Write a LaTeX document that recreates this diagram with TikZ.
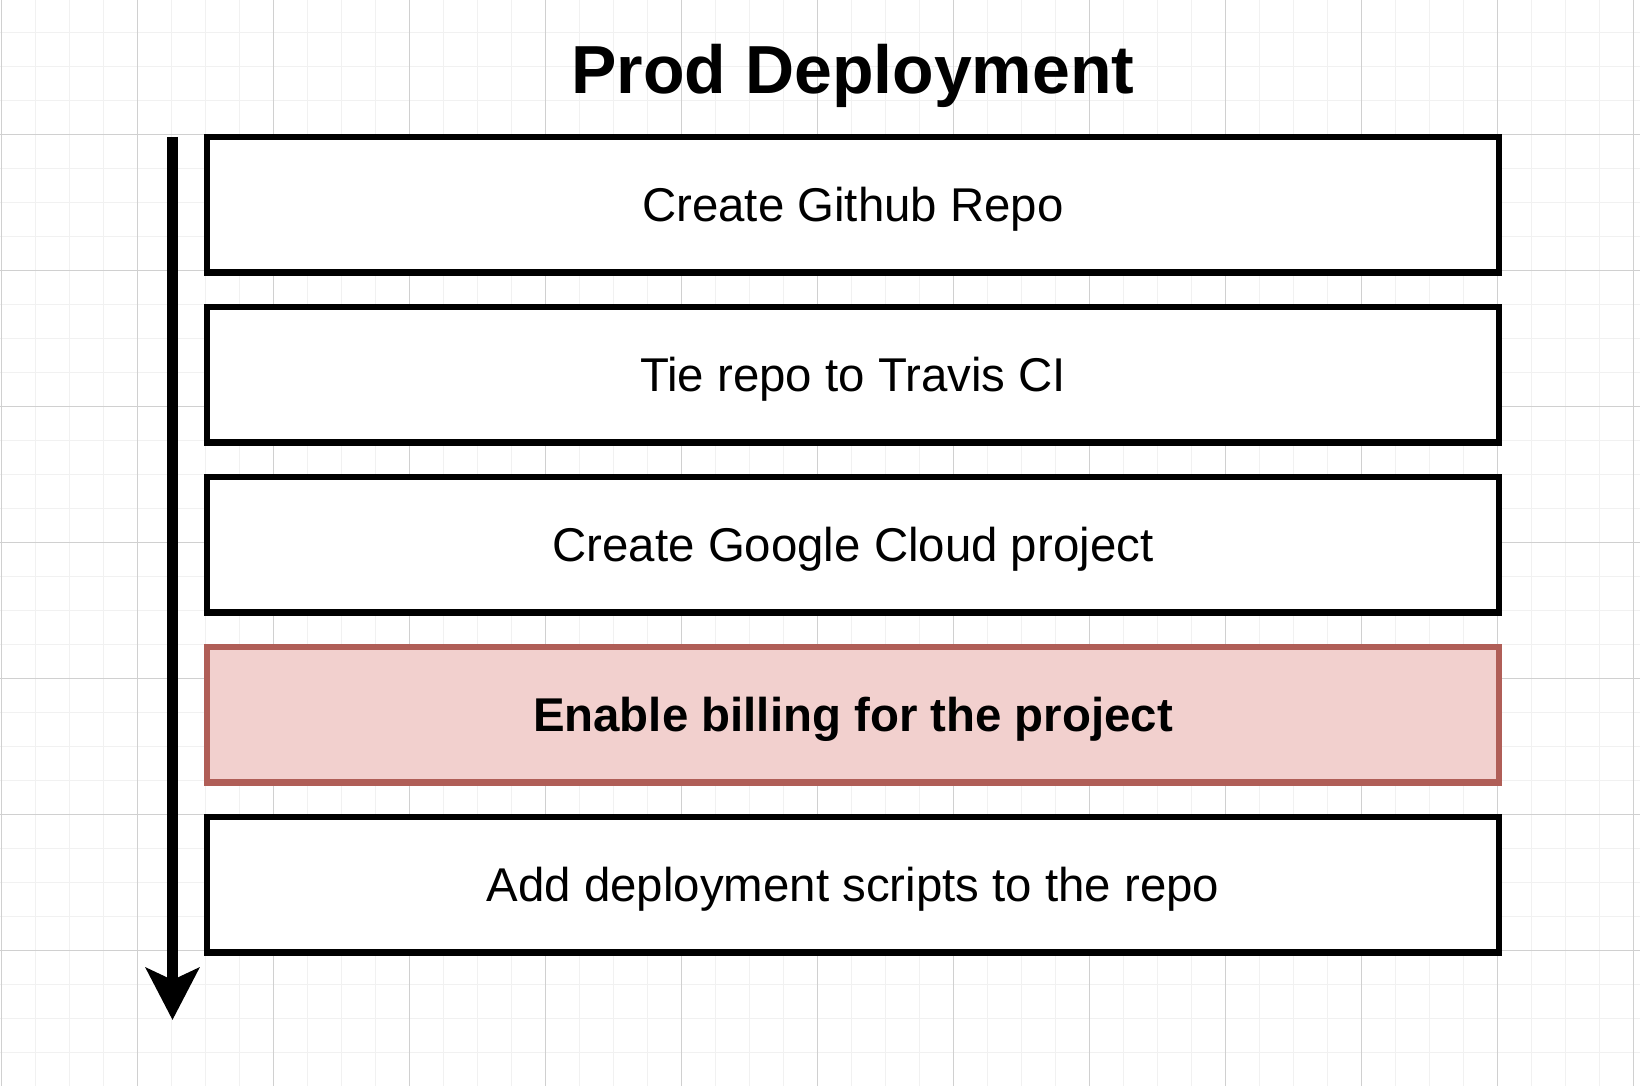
\documentclass[tikz,border=0pt]{standalone}
\usepackage{fontspec}
\setmainfont{Liberation Sans}
\usetikzlibrary{
        arrows.meta,
        positioning
    }
\definecolor{billfill}{HTML}{F2D0CE}
\definecolor{billdraw}{HTML}{B05E57}
\definecolor{gridmajor}{HTML}{D0D0D0}
\definecolor{gridminor}{HTML}{F1F1F1}
\tikzset{>={Stealth[length=26pt,width=26.5pt,inset=6pt]},node distance=17.25pt}
\tikzset{stage/.style={draw,line width=3.3pt,fill=white,minimum width=646pt,minimum height=67.75pt,
        outer sep=0pt,inner sep=0pt,font=\fontsize{23.7}{28}\selectfont,text height=18pt,text depth=1pt}}

\begin{document}
\begin{tikzpicture}[x=0.5pt,y=-0.5pt]
        \useasboundingbox (0,0) rectangle (1640,1086);
        \fill[white] (0,0) rectangle (1640,1086);
        % grid
        \foreach \x in {1.3,35.3,...,1640} \draw[gridminor,line width=0.5pt] (\x,0) -- (\x,1086);
        \foreach \y in {-1.7,32.3,...,1086} \draw[gridminor,line width=0.5pt] (0,\y) -- (1640,\y);
        \foreach \x in {1.3,137.3,...,1640} \draw[gridmajor,line width=0.5pt] (\x,0) -- (\x,1086);
        \foreach \y in {-1.7,134.3,...,1086} \draw[gridmajor,line width=0.5pt] (0,\y) -- (1640,\y);

        \node[font=\fontsize{34}{40}\selectfont\bfseries,anchor=base] (title) at (853,94) {Prod Deployment};
        \node[stage,anchor=north west] (github) at (207,137) {Create Github Repo};
        \node[stage] (travis)  [below=of github]  {Tie repo to Travis CI};
        \node[stage] (gcloud)  [below=of travis]  {Create Google Cloud project};
        \node[stage,fill=billfill,draw=billdraw,font=\fontsize{23.7}{28}\selectfont\bfseries] (billing) [below=of gcloud] {Enable billing for the project};
        \node[stage] (scripts) [below=of billing] {Add deployment scripts to the repo};

        \coordinate (top) at (172.5,137);
        \coordinate (bottom) at (172.5,1020);
        \draw[->,line width=5.25pt] (top) -- (bottom);
    \end{tikzpicture}
\end{document}
